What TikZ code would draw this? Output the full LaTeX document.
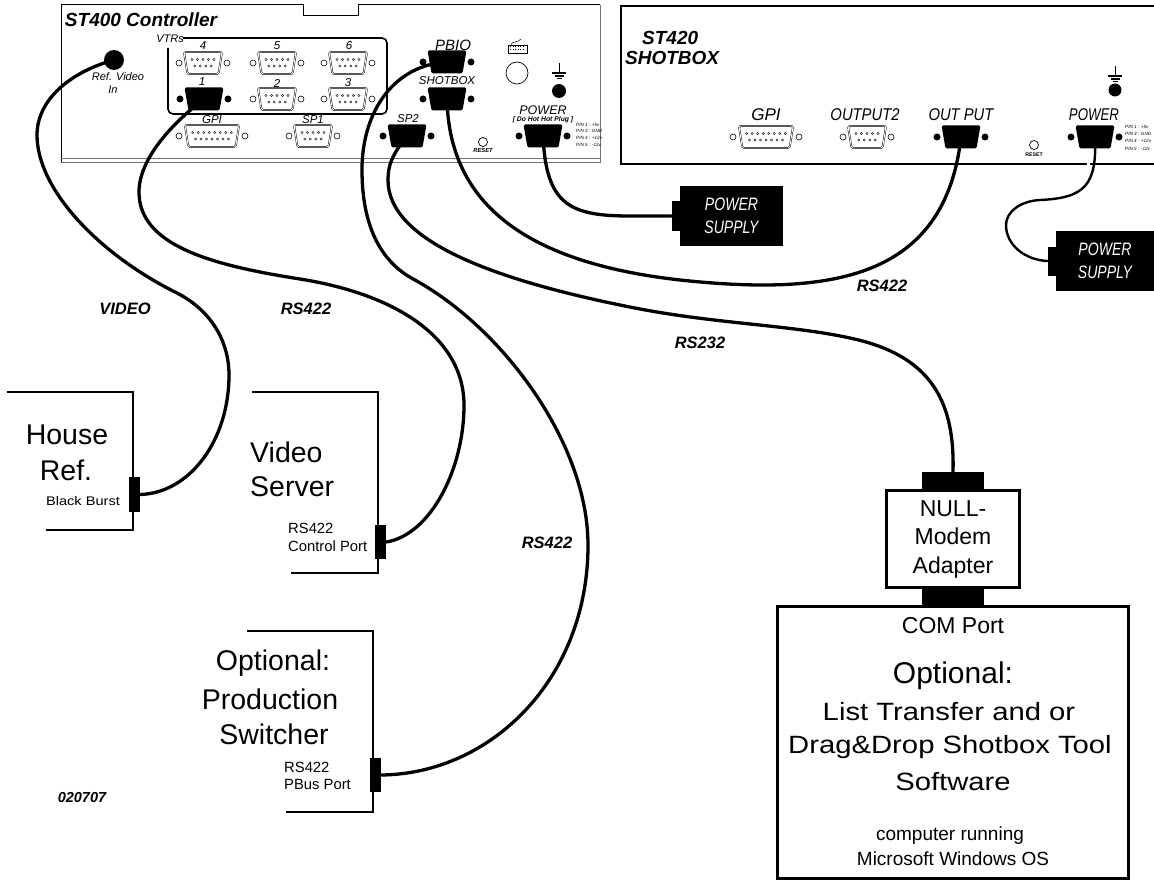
\documentclass[tikz,border=0pt]{standalone}
\usepackage{fontspec}
\setmainfont{Liberation Sans}
\newfontfamily\narrowfont[FakeStretch=0.78]{Liberation Sans}
\newfontfamily\midfont[FakeStretch=0.87]{Liberation Sans}
\newfontfamily\widefont[FakeStretch=1.17]{Liberation Sans}
\usetikzlibrary{positioning}

\newcommand{\fs}[1]{\fontsize{#1}{#1}\selectfont}

\tikzset{
	x=1pt,y=-1pt,
	cable/.style={line width=3.3pt,line cap=round},
	thincable/.style={line width=2.4pt,line cap=round},
	wall/.style={line width=1.8pt},
	openshell/.style={draw=black,double=white,double distance=0.9pt,line width=0.45pt,rounded corners=1.5pt},
	blackshell/.style={fill=black,rounded corners=1.5pt},
	openhole/.style={circle,draw,line width=0.6pt,minimum size=6pt,inner sep=0pt},
	blackhole/.style={circle,fill=black,minimum size=7pt,inner sep=0pt},
	portbody/.style={rectangle,inner sep=0pt,minimum height=22pt},
	plug/.style={rectangle,fill=black,inner sep=0pt},
	psu/.style={plug,text=white,align=center,font=\narrowfont\itshape\fontsize{18}{23}\selectfont},
	panel/.style={font=\bfseries\itshape\fs{19},inner sep=0pt},
	tag/.style={font=\itshape\fs{11.5},inner sep=0pt},
	linelabel/.style={font=\bfseries\itshape\fs{16.5},inner sep=0pt},
	big/.style={font=\fs{28.5},inner sep=0pt},
	small/.style={font=\fs{14.8},inner sep=0pt,anchor=west},
	pc/.style={font=\widefont\fs{25},inner sep=0pt},
	pinlist/.style={font=\itshape\fs{4.6},inner sep=0pt,anchor=west}
}

% name, x, y, pins on the top row
\newcommand{\OpenPort}[4]{
	\pgfmathsetmacro{\Half}{(5.4*#4+11)/2}
	\pgfmathsetmacro{\Off}{3*#4+9}
	\pgfmathsetmacro{\First}{-2.75*(#4-1)}
	\draw[openshell] (#2-\Half,#3-11) -- (#2+\Half,#3-11) -- (#2+\Half-3.5,#3+11) -- (#2-\Half+3.5,#3+11) -- cycle;
	\node[portbody,minimum width=2*\Half pt] (#1) at (#2,#3) {};
	\node[openhole] (#1l) at (#2-\Off,#3) {};
	\node[openhole] (#1r) at (#2+\Off,#3) {};
	\foreach \Pin in {1,...,#4}{
		\draw[line width=0.3pt] (#2+\First+5.5*\Pin-5.5,#3-3.5) circle (1.1);
	}
	\pgfmathtruncatemacro{\Low}{#4-1}
	\foreach \Pin in {1,...,\Low}{
		\draw[line width=0.3pt] (#2+\First+5.5*\Pin-2.75,#3+3) circle (1.1);
	}
}

% name, x, y
\newcommand{\BlackPort}[3]{
	\fill[blackshell] (#2-19.5,#3-11.5) -- (#2+19.5,#3-11.5) -- (#2+15.5,#3+11.5) -- (#2-15.5,#3+11.5) -- cycle;
	\node[portbody,minimum width=39pt] (#1) at (#2,#3) {};
	\node[blackhole] (#1l) at (#2-24,#3) {};
	\node[blackhole] (#1r) at (#2+24,#3) {};
}

% x, y of the top of the symbol
\newcommand{\Earth}[2]{
	\draw[line width=1pt] (#1,#2) -- (#1,#2+10);
	\draw[line width=1.3pt] (#1-7,#2+10) -- (#1+7,#2+10);
	\draw[line width=1.1pt] (#1-4.5,#2+13) -- (#1+4.5,#2+13);
	\draw[line width=1pt] (#1-2.5,#2+16) -- (#1+2.5,#2+16);
}

\begin{document}
\begin{tikzpicture}
	\useasboundingbox (0,0) rectangle (1154,880);

	\draw[line width=1pt] (61,163) -- (61,5) -- (303,5) -- (303,16) -- (358,16) -- (358,5) -- (600,5);
	\draw[line width=1pt,black!55] (600,5) -- (600,163) -- (61,163);
	\draw[line width=1pt,black!55] (61,158.5) -- (600,158.5);
	\draw[line width=1.6pt,rounded corners=5pt] (183,38) -- (387,38) -- (387,114) -- (168,114) -- (168,48);

	\draw[line width=1.4pt] (1154,6) -- (621,6) -- (621,164) -- (1154,164);

	\node[panel] (stfour) at (141,20) {ST400 Controller};
	\node[panel,anchor=west] (sttwo) at (642,38) {ST420};
	\node[panel,anchor=west] (sttwob) at (625,58) {SHOTBOX};

	\node[circle,fill=black,minimum size=20pt,inner sep=0pt] (refin) at (114,60) {};
	\node[tag,font=\itshape\fs{11}] (reftxt) at (118,77) {Ref. Video};
	\node[tag,font=\itshape\fs{11}] (reftxtb) at (113,90) {In};
	\node[tag,font=\itshape\fs{11}] (vtrtxt) at (170,39) {VTRs};

	\foreach \Name/\Px/\Py/\Pins in {four/203/63/5, five/277/63/5, six/348/63/5, two/277/99/5, three/348/99/5,
		gpia/212/136/8, spone/313/136/5, gpib/766/137/8, outtwo/867/137/5}{
		\OpenPort{\Name}{\Px}{\Py}{\Pins}
	}
	\foreach \Name/\Px/\Py in {one/204/99, pbio/447/62, sbox/447/99, sptwo/407/136, pwra/543/136, outp/961/137, pwrb/1095/137}{
		\BlackPort{\Name}{\Px}{\Py}
	}

	\foreach \Px/\Py/\Txt in {203/46/4, 277/46/5, 349/46/6, 202/82/1, 277/83/2, 348/83/3, 212/120/GPI, 313/120/SP1, 408/119/SP2}{
		\node[tag] at (\Px,\Py) {\Txt};
	}
	\node[tag,font=\itshape\fs{15}] at (453,45) {PBIO};
	\node[tag] at (447,81) {SHOTBOX};
	\node[tag,font=\itshape\fs{12.5}] at (543,110) {POWER};
	\node[tag,font=\bfseries\itshape\fs{6.8}] at (543,120) {[ Do Hot Hot Plug ]};
	\foreach \Py/\Txt in {125/PIN 1 : +5v, 131/PIN 3 : GND, 138/PIN 4 : +12v, 145/PIN 5 : -12v}{
		\node[pinlist] at (576,\Py) {\Txt};
	}
	\foreach \Py/\Txt in {127/PIN 1 : +5v, 134/PIN 3 : GND, 141/PIN 4 : +12v, 149/PIN 5 : -12v}{
		\node[pinlist] at (1125,\Py) {\Txt};
	}
	\node[tag,font=\itshape\fs{17}] at (766,115) {GPI};
	\node[tag,font=\midfont\itshape\fs{17}] at (865,115) {OUTPUT2};
	\node[tag,font=\midfont\itshape\fs{17}] at (961,115) {OUT PUT};
	\node[tag,font=\narrowfont\itshape\fs{17}] at (1094,115) {POWER};

	\draw[line width=0.7pt] (483,142) circle (4.5);
	\node[font=\bfseries\itshape\fs{5.8},inner sep=0pt] at (483,151) {RESET};
	\draw[line width=0.7pt] (1034,145) circle (4.5);
	\node[font=\bfseries\fs{5.2},inner sep=0pt] at (1034,155) {RESET};

	\draw[line width=0.6pt] (508,45) rectangle (527,53);
	\foreach \Px in {510.5,513,...,525}{
		\draw[line width=0.9pt,dotted,line cap=butt] (\Px,46.5) -- (\Px,52);
	}
	\draw[line width=0.5pt] (511,45) .. controls (511,41) and (518,43) .. (521,39);
	\draw[line width=0.7pt] (517,73) circle (11);
	\Earth{559}{63}
	\fill (559,91) circle (7);
	\Earth{1115}{66}
	\fill (1115,90) circle (6.5);

	\node[psu,minimum width=103pt,minimum height=60pt] (psua) at (731.5,216) {POWER\\SUPPLY};
	\node[plug,minimum width=8pt,minimum height=30pt,left=0pt of psua] (psuastub) {};
	\node[psu,minimum width=98pt,minimum height=60pt] (psub) at (1105,261) {POWER\\SUPPLY};
	\node[plug,minimum width=8pt,minimum height=29pt,left=0pt of psub] (psubstub) {};

	\draw[wall] (7,392) -- (133,392) -- (133,530) -- (46,530);
	\draw[wall] (252,392) -- (378,392) -- (378,573) -- (291,573);
	\draw[wall] (247,631) -- (373,631) -- (373,812) -- (286,812);
	\node[plug,minimum width=11pt,minimum height=35pt] (housejack) at (134.5,494.5) {};
	\node[plug,minimum width=11pt,minimum height=34pt] (serverjack) at (380.5,542) {};
	\node[plug,minimum width=11pt,minimum height=34pt] (switchjack) at (375.5,775) {};

	\node[big] at (67,435) {House};
	\node[big] at (66,470) {Ref.};
	\node[font=\widefont\fs{12.5},inner sep=0pt] at (83,501) {Black Burst};
	\node[big,anchor=west] at (250,452) {Video};
	\node[big,anchor=west] at (250,487) {Server};
	\node[small] at (288,528) {RS422};
	\node[small] at (288,546) {Control Port};
	\node[big] at (273,663) {Optional:};
	\node[big] at (270,699) {Production};
	\node[big] at (274,734) {Switcher};
	\node[small] at (284,767) {RS422};
	\node[small] at (284,784) {PBus Port};
	\node[font=\bfseries\itshape\fs{14.5},inner sep=0pt] at (82,798) {020707};

	\node[linelabel] at (125,309) {VIDEO};
	\node[linelabel] at (306,309) {RS422};
	\node[linelabel] at (882,286) {RS422};
	\node[linelabel] at (700,343) {RS232};
	\node[linelabel] at (547,543) {RS422};

	\node[plug,minimum width=62pt,minimum height=18pt] (nulltop) at (953,481) {};
	\node[plug,minimum width=62pt,minimum height=18pt] (nullbot) at (953,597) {};
	\node[draw,line width=3pt,minimum width=133pt,minimum height=97pt,inner sep=0pt,align=center,font=\fontsize{23}{28.5}\selectfont] (nullbox) at (953,539) {NULL-\\Modem\\Adapter};
	\draw[line width=3pt] (777,606) rectangle (1128,878.5);
	\node[font=\fs{23},inner sep=0pt] (comtxt) at (953,626) {COM Port};
	\node[font=\fs{30},inner sep=0pt] at (953,676) {Optional:};
	\node[pc] at (949,712) {List Transfer and or};
	\node[pc] at (950,747) {Drag\&Drop Shotbox Tool};
	\node[pc] at (953,782) {Software};
	\node[font=\fs{19},inner sep=0pt] at (950,836) {computer running};
	\node[font=\fs{19},inner sep=0pt] at (953,859) {Microsoft Windows OS};

	\draw[cable] (refin.center) .. controls (70,72) and (37,100) .. (37,135) .. controls (37,190) and (100,255) .. (177,293) .. controls (210,310) and (229,340) .. (229,375) .. controls (229,440) and (190,493) .. (housejack.east);
	\draw[cable] (one.center) .. controls (170,125) and (139,160) .. (139,192) .. controls (139,245) and (210,265) .. (300,279) .. controls (400,295) and (464,340) .. (464,405) .. controls (464,470) and (430,535) .. (serverjack.east);
	\draw[cable] (pbio.center) .. controls (395,65) and (362,110) .. (362,170) .. controls (362,225) and (380,262) .. (415,280) .. controls (505,330) and (588,445) .. (588,545) .. controls (588,680) and (490,774) .. (switchjack.east);
	\draw[cable] (sptwo.center) .. controls (392,155) and (388,165) .. (388,180) .. controls (388,240) and (490,280) .. (640,309) .. controls (720,324) and (790,325) .. (850,338) .. controls (930,355) and (955,400) .. (nulltop.north);
	\draw[cable] (sbox.center) .. controls (449,200) and (520,262) .. (680,280) .. controls (830,296) and (945,280) .. (outp.center);
	\draw[cable] (pwra.center) .. controls (546,205) and (570,216) .. (630,216) -- (psuastub.west);
	\draw[white,line width=3pt] (1091,149) -- (1088,167);
	\draw[thincable] (pwrb.center) .. controls (1097,185) and (1085,198) .. (1040,200) .. controls (1020,201) and (1006,212) .. (1006,225) .. controls (1006,245) and (1025,260) .. (psubstub.west);
\end{tikzpicture}
\end{document}
